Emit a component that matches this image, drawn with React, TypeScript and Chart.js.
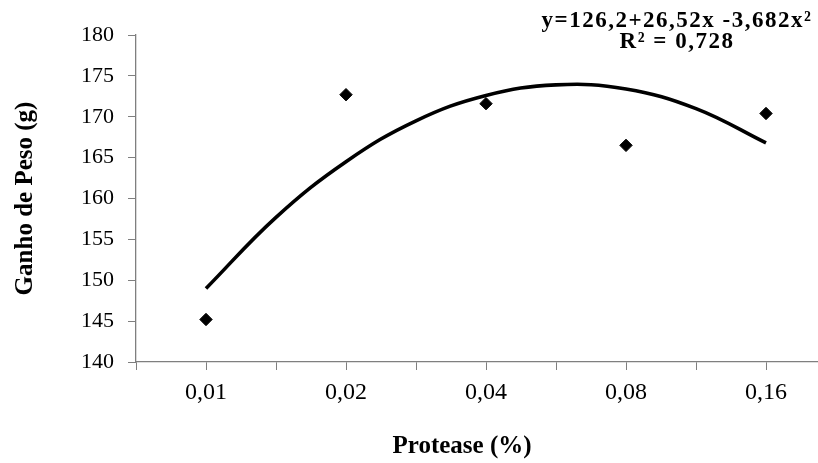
import React, { useEffect, useRef } from "react";
import { Chart, registerables } from "chart.js";

Chart.register(...registerables);

const xLabels = ["0,01", "0,02", "0,04", "0,08", "0,16"];
const observed = [145.2, 172.7, 171.6, 166.5, 170.4];
const trendX = [1, 1.5, 2, 2.5, 3, 3.5, 4, 4.5, 5];
const trendY = [149.0, 157.7, 164.5, 169.5, 172.6, 173.9, 173.4, 171.0, 166.8];
const yTicks = { min: 140, max: 180, step: 5 };
const equationLines = ["y=126,2+26,52x -3,682x²", "R² = 0,728"];
const yTitle = "Ganho de Peso (g)";
const xTitle = "Protease (%)";

const SERIF = '"Liberation Serif", "Times New Roman", serif';

const equationPlugin = {
  id: "equationText",
  afterDraw(chart: any) {
    const ctx = chart.ctx;
    ctx.save();
    ctx.fillStyle = "#000";
    ctx.font = `bold 23px ${SERIF}`;
    ctx.textAlign = "center";
    ctx.textBaseline = "alphabetic";
    try {
      (ctx as any).letterSpacing = "1.5px";
    } catch (e) {}
    ctx.fillText(equationLines[0], 677, 27);
    ctx.fillText(equationLines[1], 677, 48);
    ctx.restore();
  },
};

export default function App() {
  const ref = useRef<HTMLCanvasElement | null>(null);
  useEffect(() => {
    if (!ref.current) return;
    Chart.defaults.font.family = SERIF;
    Chart.defaults.color = "#000";
    const chart = new Chart(ref.current, {
      type: "scatter",
      data: {
        datasets: [
          {
            type: "line",
            data: trendX.map((x, i) => ({ x, y: trendY[i] })),
            borderColor: "#000",
            borderWidth: 3.6,
            pointRadius: 0,
            tension: 0.4,
            fill: false,
          } as any,
          {
            type: "scatter",
            data: observed.map((y, i) => ({ x: i + 1, y })),
            pointStyle: "rectRot",
            pointRadius: 6.2,
            backgroundColor: "#000",
            borderColor: "#000",
            borderWidth: 1,
          } as any,
        ],
      },
      options: {
        animation: false,
        responsive: false,
        devicePixelRatio: 1,
        layout: { padding: { top: 35, right: 0, left: 0, bottom: 0 } },
        plugins: {
          legend: { display: false },
          tooltip: { enabled: false },
          title: {
            display: true,
            position: "bottom",
            text: xTitle,
            color: "#000",
            font: { size: 25, weight: "bold", family: SERIF },
            padding: { top: 0, bottom: 1 },
          },
        },
        scales: {
          x: {
            type: "linear",
            min: 0.5,
            max: 5.5,
            afterFit: (scale: any) => {
              scale.height = 70;
            },
            ticks: {
              stepSize: 0.5,
              autoSkip: false,
              maxRotation: 0,
              padding: 8,
              color: "#000",
              font: { size: 24, family: SERIF },
              callback: (v: any) => {
                const n = Number(v);
                return Number.isInteger(n) && n >= 1 && n <= xLabels.length ? xLabels[n - 1] : "";
              },
            },
            grid: { drawOnChartArea: false, drawTicks: true, tickLength: 8, color: "#7f7f7f" },
            border: { color: "#7f7f7f", width: 1.3 },
          },
          y: {
            min: yTicks.min,
            max: yTicks.max,
            afterFit: (scale: any) => {
              scale.width = 136;
            },
            ticks: {
              stepSize: yTicks.step,
              padding: 14,
              color: "#000",
              font: { size: 22, family: SERIF },
            },
            grid: { drawOnChartArea: false, drawTicks: true, tickLength: 8, color: "#7f7f7f" },
            border: { color: "#7f7f7f", width: 1.3 },
            title: {
              display: true,
              text: yTitle,
              color: "#000",
              font: { size: 25, weight: "bold", family: SERIF },
              padding: { top: 11, bottom: 0 },
            },
          },
          spacer: {
            type: "linear",
            position: "right",
            min: 0,
            max: 1,
            display: true,
            afterFit: (scale: any) => {
              scale.width = 88;
            },
            ticks: { display: false },
            grid: { display: false, drawTicks: false },
            border: { display: false },
          },
        },
      } as any,
      plugins: [equationPlugin],
    });
    return () => chart.destroy();
  }, []);
  return (
    <div style={{ position: "fixed", left: 0, top: 0, width: 924, height: 463, background: "#fff" }}>
      <canvas ref={ref} width={924} height={463} style={{ display: "block" }} />
    </div>
  );
}
